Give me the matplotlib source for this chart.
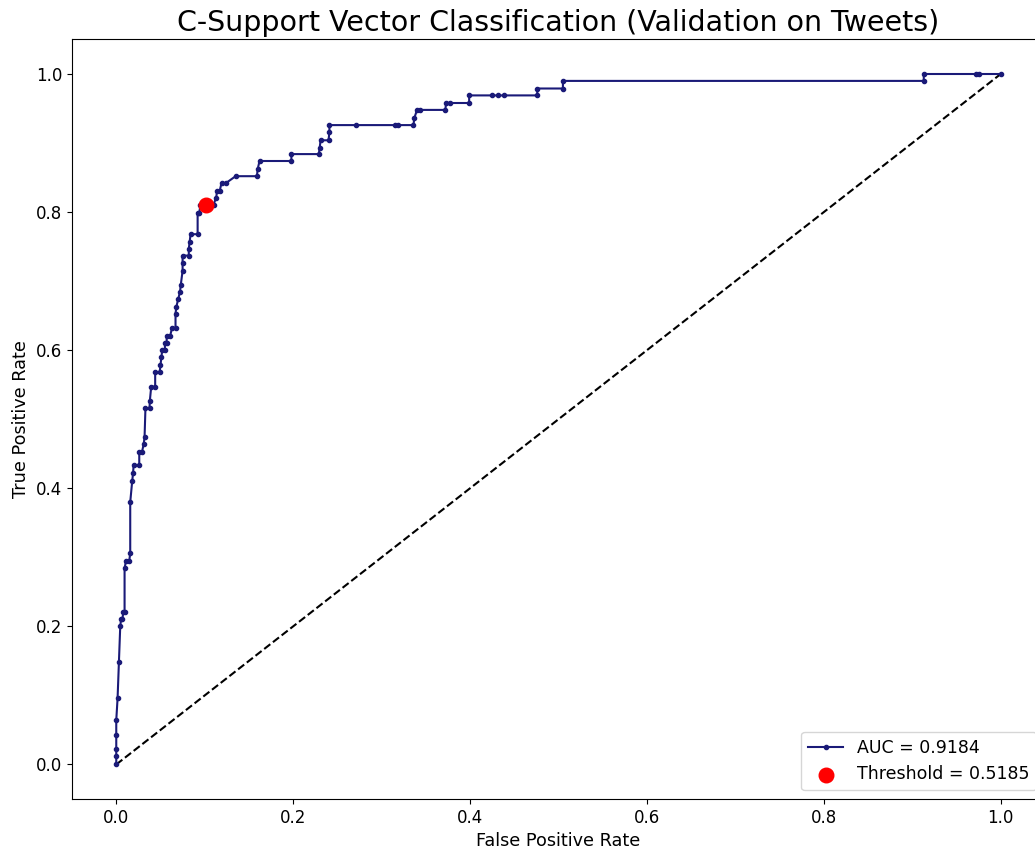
import numpy as np
import matplotlib
matplotlib.use("Agg")
import matplotlib.pyplot as plt

# ROC points
fpr = [0.0, 0.0, 0.0, 0.0, 0.0, 0.0015, 0.003, 0.0045, 0.0055, 0.007,
       0.008, 0.0094, 0.0094, 0.011, 0.0147, 0.0158, 0.0158, 0.018, 0.019, 0.0196,
       0.026, 0.026, 0.029, 0.031, 0.032, 0.033, 0.0376, 0.038, 0.0395, 0.044,
       0.044, 0.049, 0.050, 0.051, 0.052, 0.055, 0.055, 0.057, 0.057, 0.061,
       0.063, 0.067, 0.067, 0.068, 0.070, 0.072, 0.073, 0.075, 0.075, 0.075,
       0.082, 0.082, 0.083, 0.084, 0.092, 0.092, 0.094, 0.095, 0.110, 0.113,
       0.114, 0.117, 0.119, 0.124, 0.135, 0.159, 0.160, 0.162, 0.198, 0.198,
       0.229, 0.230, 0.231, 0.240, 0.241, 0.241, 0.271, 0.315, 0.319, 0.336,
       0.337, 0.340, 0.343, 0.372, 0.373, 0.377, 0.399, 0.399, 0.4245, 0.432,
       0.438, 0.476, 0.476, 0.505, 0.505, 0.913, 0.913, 0.972, 0.976, 1.0]
tpr = [0.0, 0.012, 0.022, 0.043, 0.064, 0.096, 0.148, 0.200, 0.211, 0.211,
       0.221, 0.221, 0.284, 0.295, 0.295, 0.306, 0.380, 0.410, 0.422, 0.433,
       0.433, 0.452, 0.452, 0.464, 0.474, 0.516, 0.516, 0.527, 0.547, 0.547,
       0.568, 0.568, 0.578, 0.590, 0.600, 0.600, 0.611, 0.611, 0.621, 0.621,
       0.632, 0.632, 0.653, 0.663, 0.674, 0.684, 0.695, 0.715, 0.726, 0.737,
       0.737, 0.747, 0.757, 0.768, 0.768, 0.799, 0.799, 0.811, 0.811, 0.821,
       0.831, 0.831, 0.842, 0.842, 0.852, 0.852, 0.863, 0.874, 0.874, 0.884,
       0.884, 0.893, 0.904, 0.904, 0.916, 0.926, 0.926, 0.926, 0.926, 0.926,
       0.936, 0.948, 0.948, 0.948, 0.958, 0.958, 0.958, 0.969, 0.969, 0.969,
       0.969, 0.969, 0.979, 0.979, 0.990, 0.990, 1.0, 1.0, 1.0, 1.0]
auc = 0.9184
best_fpr, best_tpr = 0.1017, 0.811
best_threshold = 0.5185

fig = plt.figure(figsize=(10.35, 8.49), dpi=100)
ax = fig.add_axes([0.0696, 0.0589, 0.940, 0.8946])

ax.plot([0, 1], [0, 1], "k--", linewidth=1.5)
ax.plot(fpr, tpr, marker=".", color="#1a1a78", linewidth=1.5,
        label="AUC = %.4f" % auc)
ax.scatter(best_fpr, best_tpr, s=110, color="red", zorder=3,
           label="Threshold = %.4f" % best_threshold)

ax.set_title("C-Support Vector Classification (Validation on Tweets)", fontsize=20.5)
ax.set_xlabel("False Positive Rate", fontsize=12.7)
ax.set_ylabel("True Positive Rate", fontsize=12.7)
ax.tick_params(labelsize=12)
ax.legend(loc="lower right", fontsize=12.5)

fig.savefig("out.png", dpi=100)
